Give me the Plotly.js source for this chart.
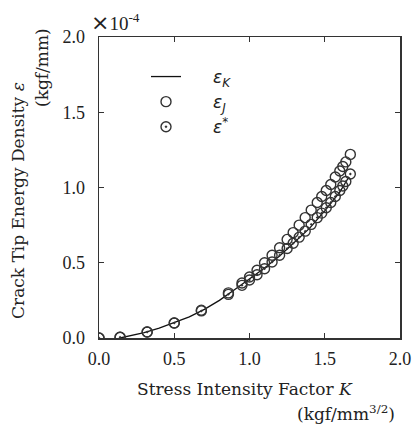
<!DOCTYPE html>
<html>
<head>
<meta charset="utf-8">
<script src="https://cdn.plot.ly/plotly-3.0.1.min.js"></script>
<style>html,body{margin:0;padding:0;background:#fff;}#chart{width:412px;height:434px;}</style>
</head>
<body>
<div id="chart"></div>
<script>
// Stress intensity factor K (kgf/mm^3/2)
const kPoints = [0, 0.14, 0.32, 0.50, 0.68, 0.86, 0.95, 1.00, 1.05, 1.10, 1.15, 1.20, 1.25, 1.29, 1.33, 1.37, 1.41, 1.45, 1.48, 1.51, 1.54, 1.57, 1.60, 1.62, 1.64, 1.67];
// epsilon_J (x1e-4 kgf/mm)
const epsJ = [0, 0.005, 0.04, 0.10, 0.185, 0.30, 0.365, 0.405, 0.45, 0.50, 0.55, 0.60, 0.655, 0.70, 0.75, 0.80, 0.85, 0.90, 0.94, 0.98, 1.02, 1.07, 1.11, 1.14, 1.17, 1.22];
// epsilon* (x1e-4 kgf/mm)
const epsStar = [0, 0.005, 0.04, 0.10, 0.18, 0.29, 0.35, 0.385, 0.42, 0.46, 0.505, 0.55, 0.595, 0.63, 0.67, 0.71, 0.755, 0.80, 0.83, 0.865, 0.90, 0.94, 0.98, 1.01, 1.04, 1.09];
// epsilon_K curve
const kLine = [0.14, 0.20, 0.30, 0.40, 0.50, 0.60, 0.70, 0.80, 0.90, 1.00, 1.10, 1.20, 1.30, 1.40, 1.50, 1.60, 1.66];
const epsK = [0, 0.012, 0.035, 0.065, 0.10, 0.14, 0.19, 0.25, 0.32, 0.39, 0.465, 0.545, 0.635, 0.73, 0.845, 0.97, 1.07];
const tickVals = [0, 0.5, 1.0, 1.5, 2.0];
const tickText = ['0.0', '0.5', '1.0', '1.5', '2.0'];

const ink = '#333';
const pad = '&nbsp;&nbsp;&nbsp;&nbsp;&nbsp;';
const traces = [
  {x: kLine, y: epsK, mode: 'lines', name: pad + '<i>ε</i><sub><i>K</i></sub>',
   line: {color: '#111', width: 1.3}},
  {x: kPoints, y: epsJ, mode: 'markers', name: pad + '<i>ε</i><sub><i>J</i></sub>',
   marker: {symbol: 'circle-open', size: 10, color: ink, line: {width: 1.4}}},
  {x: kPoints, y: epsStar, mode: 'markers', name: pad + '<i>ε</i><sup>*</sup>',
   marker: {symbol: 'circle-open-dot', size: 10, color: ink, line: {width: 1.4}}}
];

const tickFont = {family: 'Liberation Serif, serif', size: 18, color: '#222'};
const axisCommon = {
  range: [0, 2], tickvals: tickVals, ticktext: tickText,
  ticks: 'inside', ticklen: 5, tickwidth: 1.2, tickcolor: ink,
  showline: true, linecolor: ink, linewidth: 1.5, mirror: 'ticks',
  showgrid: false, zeroline: false, tickfont: tickFont, fixedrange: true,
  ticklabeloverflow: 'allow'
};
const titleFont = {family: 'DejaVu Serif, serif', size: 17, color: '#222'};
const W = 301, L = 99, B = 338;
const px = v => (v - L) / W;
const py = v => (B - v) / W;

const layout = {
  width: 412, height: 434,
  margin: {l: 99, r: 12, t: 37, b: 96},
  paper_bgcolor: '#fff', plot_bgcolor: '#fff',
  xaxis: Object.assign({}, axisCommon, {ticklabelstandoff: 4}),
  yaxis: Object.assign({}, axisCommon, {ticklabelstandoff: 9}),
  showlegend: true,
  legend: {x: px(146), y: py(59), xanchor: 'left', yanchor: 'top',
           bgcolor: 'rgba(0,0,0,0)', font: {family: 'DejaVu Sans, sans-serif', size: 17, color: '#222'}},
  annotations: [
    {text: 'Stress Intensity Factor <i>K</i>', xref: 'paper', yref: 'paper', x: px(245), y: py(389),
     showarrow: false, font: titleFont, xanchor: 'center', yanchor: 'middle'},
    {text: '(kgf/mm<sup>3/2</sup>)', xref: 'paper', yref: 'paper', x: px(397), y: py(413),
     showarrow: false, font: titleFont, xanchor: 'right', yanchor: 'middle'},
    {text: 'Crack Tip Energy Density <i>ε</i>', xref: 'paper', yref: 'paper', x: px(18), y: py(201),
     showarrow: false, font: titleFont, textangle: -90, xanchor: 'center', yanchor: 'middle'},
    {text: '(kgf/mm)', xref: 'paper', yref: 'paper', x: px(42), y: py(68),
     showarrow: false, font: titleFont, textangle: -90, xanchor: 'center', yanchor: 'middle'},
    {text: '<span style="font-family:DejaVu Sans;font-size:22px">×</span>10<sup>-4</sup>', xref: 'paper', yref: 'paper', x: px(89), y: py(22),
     showarrow: false, font: {family: 'Liberation Serif, serif', size: 19, color: '#222'},
     xanchor: 'left', yanchor: 'middle'}
  ]
};
Plotly.newPlot('chart', traces, layout, {displayModeBar: false, staticPlot: true});
</script>
</body>
</html>
